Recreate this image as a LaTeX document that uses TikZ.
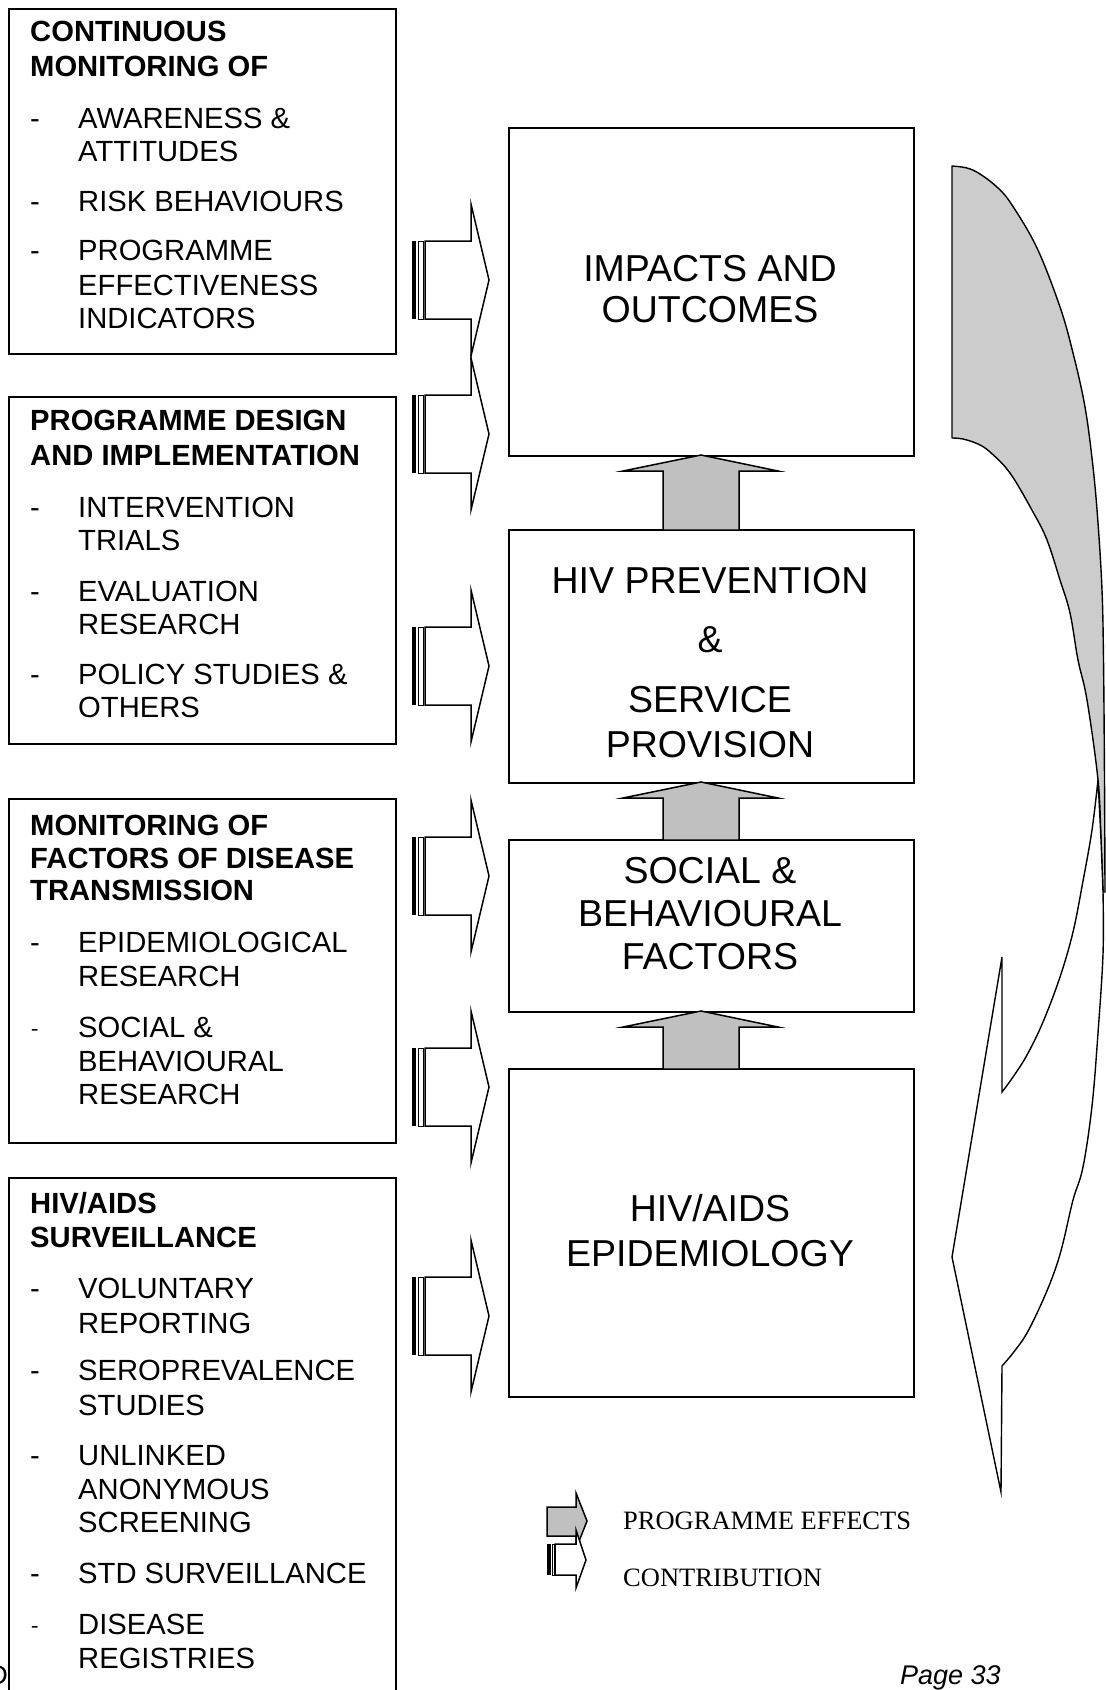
\documentclass[tikz,border=0pt]{standalone}
\usepackage{fontspec}
\setmainfont{Liberation Sans}
\newfontfamily\serifx{Liberation Serif}
\definecolor{effgrey}{HTML}{C0C0C0}
\definecolor{curvegrey}{HTML}{CCCCCC}
\tikzset{
  box/.style={draw, line width=1.5pt, inner sep=0pt, rectangle},
  ltxt/.style={anchor=base west, inner sep=0pt, font=\fontsize{29.2}{34}\selectfont},
  lhead/.style={anchor=base west, inner sep=0pt, font=\fontsize{29.2}{34}\selectfont\bfseries},
  sdash/.style={anchor=base west, inner sep=0pt, font=\serifx\fontsize{22}{26}\selectfont},
  ctxt/.style={anchor=base, inner sep=0pt, font=\fontsize{37.5}{42}\selectfont},
  peff/.style={draw, line width=1.5pt, fill=effgrey, line join=miter},
  contr/.style={draw, line width=1.5pt, fill=white, line join=miter},
  legtxt/.style={anchor=base west, inner sep=0pt, font=\serifx\fontsize{26.5}{30}\selectfont},
}
\newcommand\contribarrow[1]{%
  \begin{scope}[shift={(0,#1)}]
    \fill (412.3,-39) rectangle (416,39);
    \draw[line width=0.9pt] (418.3,-39) rectangle (423.5,39);
    \draw[contr] (425,-39) -- (471,-39) -- (471,-76) -- (489,0) -- (471,76) -- (471,39) -- (425,39) -- cycle;
  \end{scope}}
\newcommand\effarrow[2]{%
  \draw[peff] (663,#2) -- (663,{#1+16}) -- (623,{#1+16}) -- (701,#1) -- (778,{#1+16}) -- (739,{#1+16}) -- (739,#2) -- cycle;}
\begin{document}
\begin{tikzpicture}[x=1pt,y=-1pt]
\useasboundingbox (0,0) rectangle (1106,1690);

% ---------- left boxes ----------
\node[box, minimum width=387, minimum height=345] (b1) at (202.5,181.5) {};
\node[box, minimum width=387, minimum height=347] (b2) at (202.5,570.5) {};
\node[box, minimum width=387, minimum height=344] (b3) at (202.5,971) {};
\node[box, minimum width=387, minimum height=542] (b4) at (202.5,1449) {};

% box 1
\node[lhead] (t1a) at (30,41) {CONTINUOUS};
\node[lhead] (t1b) at (30,76) {MONITORING OF};
\node[ltxt] (d1a) at (30,128) {-};
\node[ltxt] (t1c) at (78,128) {AWARENESS \&};
\node[ltxt] (t1d) at (78,161) {ATTITUDES};
\node[ltxt] (d1b) at (30,211) {-};
\node[ltxt] (t1e) at (78,211) {RISK BEHAVIOURS};
\node[ltxt] (d1c) at (30,260) {-};
\node[ltxt] (t1f) at (78,260) {PROGRAMME};
\node[ltxt] (t1g) at (78,295) {EFFECTIVENESS};
\node[ltxt] (t1h) at (78,328) {INDICATORS};

% box 2
\node[lhead] (t2a) at (30,430) {PROGRAMME DESIGN};
\node[lhead] (t2b) at (30,465) {AND IMPLEMENTATION};
\node[ltxt] (d2a) at (30,517) {-};
\node[ltxt] (t2c) at (78,517) {INTERVENTION};
\node[ltxt] (t2d) at (78,550) {TRIALS};
\node[ltxt] (d2b) at (30,601) {-};
\node[ltxt] (t2e) at (78,601) {EVALUATION};
\node[ltxt] (t2f) at (78,634) {RESEARCH};
\node[ltxt] (d2c) at (30,684) {-};
\node[ltxt] (t2g) at (78,684) {POLICY STUDIES \&};
\node[ltxt] (t2h) at (78,717) {OTHERS};

% box 3
\node[lhead] (t3a) at (30,835) {MONITORING OF};
\node[lhead] (t3b) at (30,868) {FACTORS OF DISEASE};
\node[lhead] (t3c) at (30,900) {TRANSMISSION};
\node[ltxt] (d3a) at (30,952) {-};
\node[ltxt] (t3d) at (78,952) {EPIDEMIOLOGICAL};
\node[ltxt] (t3e) at (78,986) {RESEARCH};
\node[sdash] (d3b) at (31,1035) {-};
\node[ltxt] (t3f) at (78,1037) {SOCIAL \&};
\node[ltxt] (t3g) at (78,1071) {BEHAVIOURAL};
\node[ltxt] (t3h) at (78,1104) {RESEARCH};

% box 4
\node[lhead] (t4a) at (30,1213) {HIV/AIDS};
\node[lhead] (t4b) at (30,1247) {SURVEILLANCE};
\node[ltxt] (d4a) at (30,1298) {-};
\node[ltxt] (t4c) at (78,1298) {VOLUNTARY};
\node[ltxt] (t4d) at (78,1333) {REPORTING};
\node[ltxt] (d4b) at (30,1380) {-};
\node[ltxt] (t4e) at (78,1380) {SEROPREVALENCE};
\node[ltxt] (t4f) at (78,1415) {STUDIES};
\node[ltxt] (d4c) at (30,1465) {-};
\node[ltxt] (t4g) at (78,1465) {UNLINKED};
\node[ltxt] (t4h) at (78,1499) {ANONYMOUS};
\node[ltxt] (t4i) at (78,1532) {SCREENING};
\node[ltxt] (d4d) at (30,1583) {-};
\node[ltxt] (t4j) at (78,1583) {STD SURVEILLANCE};
\node[sdash] (d4e) at (31,1632) {-};
\node[ltxt] (t4k) at (78,1634) {DISEASE};
\node[ltxt] (t4l) at (78,1668) {REGISTRIES};

% ---------- contribution arrows ----------
\contribarrow{280}
\contribarrow{434}
\contribarrow{666}
\contribarrow{876}
\contribarrow{1087}
\contribarrow{1316}

% ---------- centre boxes ----------
\node[box, minimum width=405, minimum height=328] (c1) at (711.5,292) {};
\node[box, minimum width=405, minimum height=253] (c2) at (711.5,656.5) {};
\node[box, minimum width=405, minimum height=172] (c3) at (711.5,926) {};
\node[box, minimum width=405, minimum height=328] (c4) at (711.5,1233) {};

\node[ctxt] (c1a) at (710,281) {IMPACTS AND};
\node[ctxt] (c1b) at (710,322) {OUTCOMES};
\node[ctxt] (c2a) at (710,593) {HIV PREVENTION};
\node[ctxt] (c2b) at (710,652) {\&};
\node[ctxt] (c2c) at (710,712) {SERVICE};
\node[ctxt] (c2d) at (710,757) {PROVISION};
\node[ctxt] (c3a) at (710,883) {SOCIAL \&};
\node[ctxt] (c3b) at (710,926) {BEHAVIOURAL};
\node[ctxt] (c3c) at (710,969) {FACTORS};
\node[ctxt] (c4a) at (710,1221) {HIV/AIDS};
\node[ctxt] (c4b) at (710,1266) {EPIDEMIOLOGY};

% ---------- programme effect arrows ----------
\effarrow{455}{530}
\effarrow{782}{840}
\effarrow{1011}{1069}

% ---------- curved arrow ----------
\filldraw[fill=curvegrey, line width=1.4pt, line join=round]
  (952,438) -- (952,166)
  -- plot[smooth, tension=0.6] coordinates {(952,166) (967,168) (980,174) (998,188) (1012,205) (1037,248) (1060,307) (1073,353) (1085,407) (1093,467) (1098,523) (1102,590) (1103.5,660) (1104.5,780) (1105,892)}
  -- plot[smooth, tension=0.6] coordinates {(1103,892) (1101,840) (1098,780) (1087,700) (1078,660) (1070,613) (1060,580) (1047,540) (1033,512) (1010,473) (990,452) (978,444) (963,439) (952,438)}
  -- cycle;
\filldraw[fill=white, line width=1.4pt, line join=miter]
  plot[smooth, tension=0.6] coordinates {(1098,780) (1092,830) (1083,881) (1073,932) (1060,977) (1043,1022) (1027,1055) (1013,1077) (1002,1092)}
  -- (1002,957) -- (952,1257) -- (1001,1492) -- (1002,1366)
  -- plot[smooth, tension=0.6] coordinates {(1002,1366) (1013,1353) (1027,1333) (1043,1300) (1055,1270) (1063,1243) (1073,1200) (1083,1167) (1092,1106) (1098,1033) (1103,954) (1103,892)}
  -- plot[smooth] coordinates {(1103,892) (1101,840) (1098,780)}
  -- cycle;

% ---------- legend ----------
\draw[peff] (547,1507) -- (576,1507) -- (576,1493) -- (587,1521) -- (576,1549) -- (576,1536) -- (547,1536) -- cycle;
\fill (547.3,1544) rectangle (550.7,1575);
\draw[line width=0.9pt] (552,1544) rectangle (554,1575);
\draw[contr] (555,1544) -- (576,1544) -- (576,1530) -- (586,1560) -- (576,1588) -- (576,1575) -- (555,1575) -- cycle;
\node[legtxt] (lg1) at (623,1529) {PROGRAMME EFFECTS};
\node[legtxt] (lg2) at (623,1586) {CONTRIBUTION};

% ---------- footer ----------
\node[anchor=base west, inner sep=0pt, font=\itshape\fontsize{27}{30}\selectfont] (pg) at (900,1684) {Page 33};
\node[anchor=base east, inner sep=0pt, font=\fontsize{27}{30}\selectfont] (ftd) at (8,1684) {D};
\end{tikzpicture}
\end{document}
